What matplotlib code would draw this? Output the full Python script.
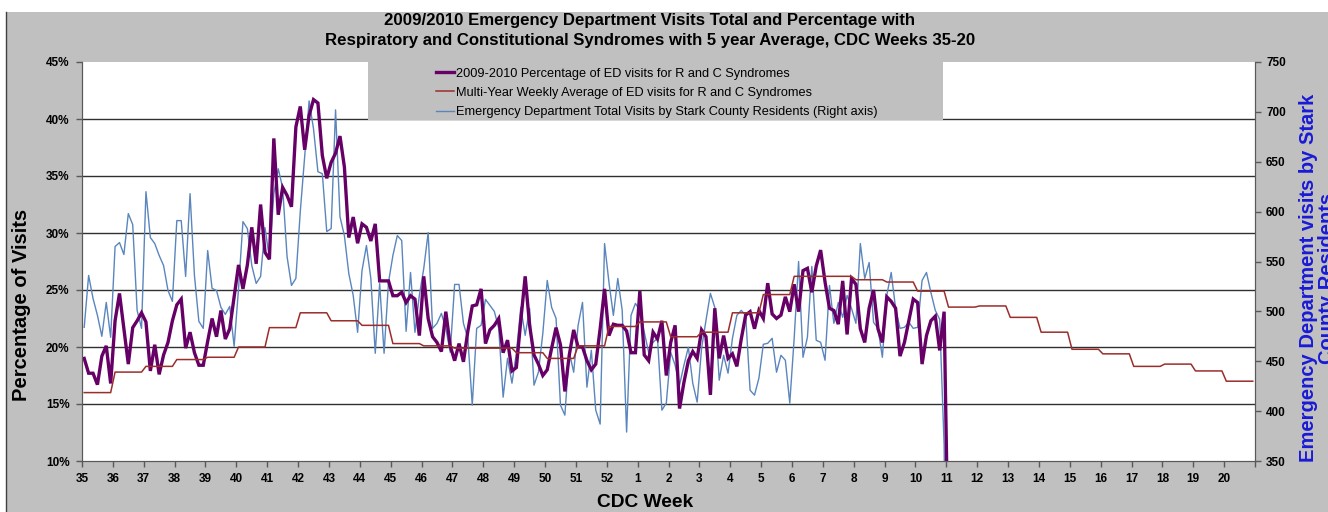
import numpy as np
import matplotlib
matplotlib.use('Agg')
import matplotlib.pyplot as plt
from matplotlib.patches import Rectangle
from matplotlib.lines import Line2D
from matplotlib.ticker import FuncFormatter

# daily % of ED visits for R and C syndromes, 2009-2010 (week 35 -> week 11)
pct_2009 = [19.0, 17.7, 17.7, 16.7, 19.2, 20.1, 16.8, 22.3, 24.7, 21.6,
            18.5, 21.7, 22.3, 23.0, 22.2, 17.9, 20.2, 17.6, 19.3, 20.4,
            22.3, 23.7, 24.2, 19.9, 21.3, 19.5, 18.4, 18.4, 20.5, 22.5,
            20.9, 23.2, 20.7, 21.6, 24.4, 27.2, 25.1, 27.2, 30.5, 27.3,
            32.5, 28.3, 27.7, 38.3, 31.6, 34.0, 33.3, 32.3, 39.3, 41.1,
            37.3, 40.3, 41.7, 41.4, 36.8, 34.8, 36.2, 37.0, 38.5, 35.8,
            29.6, 31.4, 29.1, 30.8, 30.5, 29.3, 30.8, 25.8, 25.8, 25.8,
            24.5, 24.5, 24.8, 23.9, 24.5, 24.2, 21.0, 26.2, 22.5, 20.9,
            20.4, 19.6, 23.1, 20.1, 18.8, 20.3, 18.7, 21.4, 23.6, 23.7,
            25.1, 20.3, 21.5, 21.9, 22.5, 19.5, 20.6, 17.9, 18.2,
            22.3, 26.2, 21.9, 19.3, 18.5, 17.5, 18.0, 19.9, 21.7, 20.2,
            16.1, 19.3, 21.5, 20.0, 20.0, 18.8, 18.0, 18.5, 21.6, 25.1,
            21.0, 22.0, 21.9, 21.9, 21.4, 19.5, 19.5, 24.9, 19.3, 18.8,
            21.3, 20.7, 22.3, 17.5, 20.4, 21.9, 14.6, 16.9, 18.8, 19.6,
            19.0, 21.5, 20.9, 15.8, 23.4, 19.0, 21.0, 19.0, 19.4,
            18.3, 20.7, 22.8, 23.1, 21.6, 23.2, 22.5, 25.6, 22.9, 22.5,
            22.8, 24.4, 23.1, 25.5, 23.1, 26.7, 26.9, 24.8, 27.1, 28.5,
            25.7, 23.4, 23.2, 22.0, 25.8, 21.1, 26.0, 25.5, 21.6, 20.4,
            23.4, 25.0, 21.6, 20.4, 24.4, 24.0, 23.4, 19.2, 20.4, 22.3,
            24.2, 23.9, 18.5, 21.0, 22.3, 22.7, 19.7, 23.1, 0.0]

# daily total ED visits by Stark County residents (right axis)
visits = [484, 536, 513, 496, 475, 509, 474, 565, 569, 557,
          598, 587, 501, 483, 620, 574, 568, 556, 546, 521,
          510, 591, 591, 535, 618, 536, 490, 483, 561, 523,
          521, 504, 497, 505, 465, 523, 590, 583, 546, 528,
          535, 584, 553, 618, 643, 624, 555, 526, 533,
          600, 656, 711, 683, 640, 638, 580, 583, 702, 595,
          576, 538, 516, 479, 541, 566, 533, 458, 528, 458,
          529, 556, 576, 571, 480, 539, 479, 516, 543, 579,
          483, 488, 498, 483, 459, 527, 527, 488, 473, 406,
          483, 486, 512, 506, 500, 483, 414, 453, 428, 458,
          504, 476, 503, 426, 439, 478, 531, 504, 493, 406,
          396, 459, 439, 486, 509, 424, 461, 401, 387, 568,
          529, 496, 533, 501, 379, 496, 508, 501, 479, 459,
          469, 473, 401, 408, 459, 446, 426, 446, 464, 428,
          409, 463, 491, 518, 504, 431, 456, 438, 473,
          496, 501, 496, 421, 416, 433, 467, 468, 473, 439,
          456, 451, 408, 473, 550, 454, 474, 545, 471, 469,
          451, 526, 488, 509, 494, 516, 503, 488, 568, 533,
          549, 489, 483, 454, 516, 539, 503, 483, 484, 489,
          483, 484, 531, 539, 519, 501, 492, 366, 0]

# multi-year weekly average % (one value per CDC week 35..20)
avg_weekly = [16.0, 17.8, 18.3, 18.9, 19.1, 20.0, 21.7, 23.0, 22.3, 21.9,
              20.3, 20.1, 19.9, 19.9, 19.5, 19.0, 20.1, 21.8, 22.2, 20.9,
              21.3, 23.0, 24.6, 26.2, 26.2, 25.9, 25.7, 24.9, 23.5, 23.6,
              22.6, 21.3, 19.8, 19.4, 18.3, 18.5, 17.9, 17.0]

week_labels = [str(w) for w in list(range(35, 53)) + list(range(1, 21))]
pct_ticks = list(range(10, 46, 5))
visit_ticks = list(range(350, 751, 50))

W, H = 1328, 512
fig = plt.figure(figsize=(W / 100, H / 100), dpi=100)
fig.patch.set_facecolor('white')
fig.add_artist(Rectangle((6 / W, -0.01), 1.0, (H - 12) / H + 0.01, transform=fig.transFigure,
                         facecolor='#C0C0C0', edgecolor='none', zorder=0))
fig.add_artist(Line2D([6 / W, 6 / W], [0, (H - 12) / H], transform=fig.transFigure,
                      color='#404040', lw=1, zorder=1))

ax = fig.add_axes([82 / W, 51 / H, 1173 / W, 399 / H])
ax.set_facecolor('white')
ax2 = ax.twinx()

ax.set_xlim(0, 38)
ax.set_ylim(350, 750)
ax2.set_ylim(10, 45)

# gridlines follow the percentage axis, drawn underneath every series
for p in pct_ticks[1:-1]:
    ax.add_line(Line2D([0, 1], [p, p], transform=ax2.get_yaxis_transform(),
                       color='#303030', lw=1, zorder=0.5))

# daily x positions in week units, centred in each day slot
x_pct = (np.arange(len(pct_2009)) + 0.5) / 7
x_vis = (np.arange(len(visits)) + 0.5) / 7
avg_daily = np.repeat(avg_weekly, 7)
x_avg = (np.arange(len(avg_daily)) + 0.5) / 7

l_vis, = ax.plot(x_vis, visits, color='#5A86BD', lw=1.0)
l_pct, = ax2.plot(x_pct, pct_2009, color='#660066', lw=2.4, solid_joinstyle='miter')
l_avg, = ax2.plot(x_avg, avg_daily, color='#9B2D2A', lw=1.1)

ax.yaxis.tick_right()
ax.set_yticks(visit_ticks)
ax2.yaxis.tick_left()
ax2.set_yticks(pct_ticks)
ax2.yaxis.set_major_formatter(FuncFormatter(lambda v, p: '%d%%' % v))

ax.set_xticks(np.arange(0, 39))
ax.set_xticklabels(week_labels + [''])

for a in (ax, ax2):
    a.spines['top'].set_visible(False)
    for s in ('left', 'right', 'bottom'):
        a.spines[s].set_color('#595959')
    a.tick_params(direction='out', length=4, width=1, color='#595959',
                  labelsize=8.5, labelcolor='black')
ax.tick_params(axis='x', pad=5)
ax.tick_params(axis='y', pad=4)
ax2.tick_params(axis='y', pad=5)
for lab in ax.get_xticklabels() + ax.get_yticklabels() + ax2.get_yticklabels():
    lab.set_fontweight('bold')
    lab.set_family(['Liberation Sans', 'DejaVu Sans'])

# legend area
ax2.add_patch(Rectangle((0.2438, 0.8546), 0.4902, 0.1454, transform=ax2.transAxes,
                        facecolor='#C0C0C0', edgecolor='none', zorder=5))
leg = ax2.legend([l_pct, l_avg, l_vis],
                 ['2009-2010 Percentage of ED visits for R and C Syndromes',
                  'Multi-Year Weekly Average of ED visits for R and C Syndromes',
                  'Emergency Department Total Visits by Stark County Residents (Right axis)'],
                 loc='upper left', bbox_to_anchor=(0.2965, 1.0), frameon=False,
                 prop={'family': ['Liberation Sans', 'DejaVu Sans'], 'size': 9.2},
                 handlelength=1.45, handletextpad=0.12, labelspacing=0.56,
                 borderpad=0.45, borderaxespad=0)
leg.set_zorder(10)

# titles and axis labels
tfont = ['Liberation Sans Narrow', 'Liberation Sans', 'DejaVu Sans']
fig.text(650 / W, 1 - 21 / H, '2009/2010 Emergency Department Visits Total and Percentage with',
         ha='center', va='center', fontsize=12.1, fontweight='bold', family=tfont)
fig.text(650 / W, 1 - 41 / H,
         'Respiratory and Constitutional Syndromes with 5 year Average, CDC Weeks 35-20',
         ha='center', va='center', fontsize=12.1, fontweight='bold', family=tfont)

lfont = ['Liberation Sans', 'DejaVu Sans']
fig.text(22 / W, 1 - 305 / H, 'Percentage of Visits', rotation=90, ha='center', va='center',
         fontsize=14.5, fontweight='bold', family=lfont)
fig.text(645 / W, 1 - 494 / H, 'CDC Week', ha='center', va='top',
         fontsize=13.8, fontweight='bold', family=lfont)
fig.text(1318 / W, 1 - 278 / H, 'Emergency Department visits by Stark\nCounty Residents',
         rotation=90, ha='center', va='center', multialignment='center', linespacing=1.0,
         fontsize=14.5, fontweight='bold', color='#1A1AD6', family=lfont)

fig.savefig('out.png', dpi=100, facecolor=fig.get_facecolor())
